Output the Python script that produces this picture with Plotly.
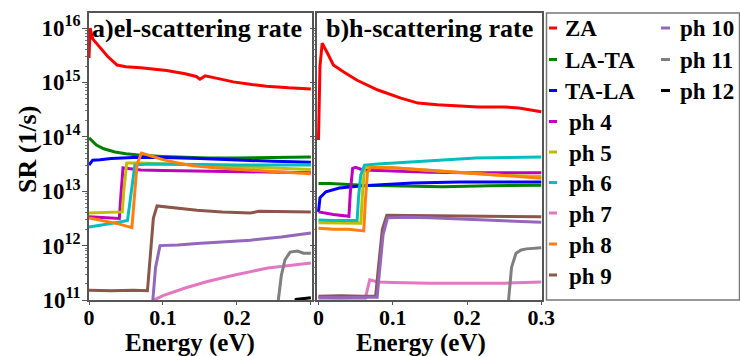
import plotly.graph_objects as go

# ---------------- data (energy in eV, log10 of scattering rate in 1/s) ----------------
names = ["ZA", "LA-TA", "TA-LA", "ph 4", "ph 5", "ph 6", "ph 7", "ph 8", "ph 9", "ph 10", "ph 11", "ph 12"]
colors = ["#ff0000", "#008000", "#0000ff", "#bf00bf", "#bfbf00", "#00bfbf",
          "#e377c2", "#ff7f0e", "#8c564b", "#9467bd", "#7f7f7f", "#000000"]

# panel a) electron scattering rate
za_a_E = [0, 0.0015, 0.005, 0.015, 0.025, 0.038, 0.05, 0.07, 0.105, 0.13, 0.145, 0.150, 0.153, 0.157, 0.175, 0.195, 0.22, 0.24, 0.27, 0.3]
za_a_L = [15.45, 16.0, 15.8, 15.65, 15.48, 15.32, 15.29, 15.27, 15.22, 15.16, 15.11, 15.06, 15.08, 15.12, 15.07, 15.01, 14.96, 14.93, 14.90, 14.88]
lata_a_E = [0, 0.003, 0.01, 0.02, 0.035, 0.05, 0.07, 0.1, 0.13, 0.16, 0.2, 0.25, 0.3]
lata_a_L = [13.98, 13.94, 13.85, 13.78, 13.72, 13.69, 13.66, 13.64, 13.62, 13.61, 13.61, 13.62, 13.63]
tala_a_E = [0, 0.002, 0.005, 0.015, 0.03, 0.06, 0.1, 0.15, 0.2, 0.25, 0.3]
tala_a_L = [13.48, 13.52, 13.57, 13.58, 13.60, 13.62, 13.62, 13.60, 13.57, 13.55, 13.53]
ph4_a_E = [0, 0.02, 0.041, 0.043, 0.046, 0.05, 0.07, 0.1, 0.15, 0.2, 0.25, 0.3]
ph4_a_L = [12.53, 12.52, 12.50, 12.9, 13.43, 13.42, 13.39, 13.38, 13.37, 13.36, 13.35, 13.34]
ph5_a_E = [0, 0.02, 0.045, 0.047, 0.051, 0.07, 0.1, 0.15, 0.2, 0.25, 0.3]
ph5_a_L = [12.60, 12.61, 12.62, 13.0, 13.52, 13.52, 13.50, 13.48, 13.45, 13.42, 13.40]
ph6_a_E = [0, 0.02, 0.04, 0.052, 0.056, 0.062, 0.08, 0.1, 0.15, 0.2, 0.25, 0.3]
ph6_a_L = [12.34, 12.38, 12.43, 12.46, 12.9, 13.48, 13.50, 13.50, 13.49, 13.48, 13.48, 13.48]
ph7_a_E = [0, 0.084, 0.088, 0.1, 0.13, 0.16, 0.197, 0.242, 0.3]
ph7_a_L = [10.5, 10.5, 11.0, 11.08, 11.22, 11.34, 11.46, 11.59, 11.68]
ph8_a_E = [0, 0.02, 0.04, 0.058, 0.061, 0.065, 0.071, 0.08, 0.1, 0.12, 0.14, 0.17, 0.2, 0.25, 0.3]
ph8_a_L = [12.51, 12.46, 12.40, 12.33, 12.9, 13.5, 13.70, 13.66, 13.58, 13.52, 13.47, 13.43, 13.40, 13.36, 13.32]
ph9_a_E = [0, 0.03, 0.06, 0.079, 0.081, 0.087, 0.092, 0.11, 0.146, 0.18, 0.218, 0.23, 0.26, 0.3]
ph9_a_L = [11.18, 11.17, 11.18, 11.17, 11.5, 12.5, 12.73, 12.70, 12.65, 12.62, 12.60, 12.63, 12.62, 12.62]
ph10_a_E = [0, 0.084, 0.086, 0.09, 0.096, 0.12, 0.146, 0.18, 0.218, 0.26, 0.3]
ph10_a_L = [10.6, 10.6, 10.95, 11.6, 12.0, 12.01, 12.04, 12.07, 12.10, 12.16, 12.23]
ph11_a_E = [0, 0.252, 0.256, 0.26, 0.265, 0.272, 0.282, 0.29, 0.3]
ph11_a_L = [10.5, 10.5, 11.0, 11.45, 11.74, 11.88, 11.90, 11.86, 11.86]
ph12_a_E = [0, 0.27, 0.28, 0.3]
ph12_a_L = [10.5, 10.5, 11.01, 11.04]

# panel b) hole scattering rate
za_b_E = [0, 0.002, 0.005, 0.008, 0.012, 0.02, 0.034, 0.052, 0.08, 0.111, 0.134, 0.16, 0.178, 0.215, 0.25, 0.27, 0.3]
za_b_L = [13.94, 15.3, 15.72, 15.65, 15.54, 15.32, 15.19, 15.04, 14.86, 14.71, 14.62, 14.59, 14.58, 14.55, 14.55, 14.53, 14.46]
lata_b_E = [0, 0.015, 0.06, 0.104, 0.167, 0.23, 0.3]
lata_b_L = [13.14, 13.14, 13.11, 13.10, 13.08, 13.10, 13.11]
tala_b_E = [0, 0.002, 0.01, 0.028, 0.06, 0.127, 0.19, 0.3]
tala_b_L = [12.62, 12.88, 12.99, 13.06, 13.10, 13.15, 13.17, 13.17]
ph4_b_E = [0, 0.02, 0.041, 0.043, 0.046, 0.05, 0.06, 0.1, 0.15, 0.2, 0.3]
ph4_b_L = [12.62, 12.57, 12.54, 13.0, 13.42, 13.44, 13.39, 13.37, 13.35, 13.34, 13.34]
ph5_b_E = [0, 0.03, 0.057, 0.059, 0.062, 0.07, 0.1, 0.15, 0.2, 0.25, 0.3]
ph5_b_L = [12.42, 12.42, 12.41, 12.9, 13.43, 13.44, 13.43, 13.38, 13.33, 13.29, 13.27]
ph6_b_E = [0, 0.02, 0.052, 0.054, 0.057, 0.062, 0.08, 0.104, 0.145, 0.212, 0.3]
ph6_b_L = [12.47, 12.46, 12.46, 12.9, 13.3, 13.48, 13.50, 13.52, 13.55, 13.61, 13.63]
ph7_b_E = [0, 0.03, 0.063, 0.066, 0.069, 0.08, 0.1, 0.15, 0.2, 0.25, 0.3]
ph7_b_L = [11.03, 11.03, 11.03, 11.2, 11.37, 11.33, 11.32, 11.31, 11.31, 11.31, 11.33]
ph8_b_E = [0, 0.02, 0.04, 0.061, 0.063, 0.066, 0.07, 0.1, 0.145, 0.212, 0.3]
ph8_b_L = [12.32, 12.30, 12.30, 12.27, 12.8, 13.35, 13.43, 13.43, 13.39, 13.32, 13.24]
ph9_b_E = [0, 0.03, 0.06, 0.077, 0.08, 0.086, 0.092, 0.15, 0.2, 0.3]
ph9_b_L = [11.07, 11.08, 11.07, 11.07, 11.5, 12.3, 12.56, 12.55, 12.54, 12.53]
ph10_b_E = [0, 0.03, 0.06, 0.079, 0.082, 0.087, 0.093, 0.12, 0.15, 0.2, 0.25, 0.3]
ph10_b_L = [11.05, 11.04, 11.05, 11.05, 11.5, 12.2, 12.51, 12.52, 12.51, 12.48, 12.46, 12.43]
ph11_b_E = [0, 0.253, 0.256, 0.26, 0.266, 0.273, 0.28, 0.3]
ph11_b_L = [10.5, 10.5, 11.0, 11.6, 11.86, 11.92, 11.94, 11.96]
ph12_b_E = [0, 0.3]
ph12_b_L = [10.5, 10.5]

panel_a = [(za_a_E, za_a_L), (lata_a_E, lata_a_L), (tala_a_E, tala_a_L), (ph4_a_E, ph4_a_L),
           (ph5_a_E, ph5_a_L), (ph6_a_E, ph6_a_L), (ph7_a_E, ph7_a_L), (ph8_a_E, ph8_a_L),
           (ph9_a_E, ph9_a_L), (ph10_a_E, ph10_a_L), (ph11_a_E, ph11_a_L), (ph12_a_E, ph12_a_L)]
panel_b = [(za_b_E, za_b_L), (lata_b_E, lata_b_L), (tala_b_E, tala_b_L), (ph4_b_E, ph4_b_L),
           (ph5_b_E, ph5_b_L), (ph6_b_E, ph6_b_L), (ph7_b_E, ph7_b_L), (ph8_b_E, ph8_b_L),
           (ph9_b_E, ph9_b_L), (ph10_b_E, ph10_b_L), (ph11_b_E, ph11_b_L), (ph12_b_E, ph12_b_L)]

x_tickvals = [0, 0.1, 0.2, 0.3]
x_ticktext_a = ["0", "0.1", "0.2", ""]
x_ticktext_b = ["0", "0.1", "0.2", "0.3"]
y_exponents = [11, 12, 13, 14, 15, 16]

# ---------------- figure ----------------
W, H = 740, 356
ML, MR, MT, MB = 89, 198, 13, 56
PW, PH = W - ML - MR, H - MT - MB
FONT = "Liberation Serif, Times New Roman, Times, serif"


def px_x(p):
    return (p - ML) / PW


def px_y(p):
    return (H - MB - p) / PH


def bold(t):
    return "<b>" + t + "</b>"


fig = go.Figure()
for i in range(len(names)):
    for (E, L), ax in ((panel_a[i], "x"), (panel_b[i], "x2")):
        fig.add_trace(go.Scatter(
            x=E, y=[10 ** v for v in L], mode="lines", name=names[i],
            line=dict(color=colors[i], width=3), xaxis=ax, yaxis="y" if ax == "x" else "y2",
            showlegend=False, hoverinfo="skip"))

frame = dict(showline=True, linecolor="#555555", linewidth=1.5, mirror=True,
             showgrid=False, zeroline=False)
tfont = dict(size=23, color="black", family=FONT)
xfont = dict(size=22, color="black", family=FONT)
yticks = dict(type="log", range=[11, 16.276], tickmode="array",
              tickvals=[10 ** e for e in y_exponents],
              ticktext=[bold("10<sup>%d</sup>" % e) for e in y_exponents],
              ticks="outside", ticklen=5, tickcolor="#555555",
              minor=dict(ticks="outside", ticklen=2.5, tickcolor="#777777", dtick="D1", showgrid=False))
xcommon = dict(tickmode="array", tickvals=x_tickvals, ticks="outside", ticklen=3,
               tickcolor="#555555", tickfont=xfont, ticklabelstandoff=-6)

fig.update_layout(
    width=W, height=H, margin=dict(l=ML, r=MR, t=MT, b=MB),
    paper_bgcolor="white", plot_bgcolor="white",
    font=dict(family=FONT, color="black"),
    showlegend=False,
    xaxis=dict(domain=[0, px_x(312)], range=[0, 0.3015],
               ticktext=[bold(t) for t in x_ticktext_a], anchor="y", **xcommon, **frame),
    xaxis2=dict(domain=[px_x(317), 1], range=[-0.002, 0.301],
                ticktext=[bold(t) for t in x_ticktext_b], anchor="y2", **xcommon, **frame),
    yaxis=dict(anchor="x", tickfont=tfont, ticklabelstandoff=-3, **yticks, **frame),
    yaxis2=dict(anchor="x2", matches="y", showticklabels=False, **yticks, **frame),
)


def txt(x, y, s, size, **kw):
    d = dict(x=px_x(x), y=px_y(y), text=bold(s), xref="paper", yref="paper", showarrow=False,
             xanchor="left", yanchor="middle", font=dict(size=size, family=FONT, color="black"))
    d.update(kw)
    return d


ann = [
    txt(90, 29, "a)el-scattering rate", 26),
    txt(324, 29, "b)h-scattering rate", 26),
    txt(190, 343, "Energy (eV)", 25, xanchor="center"),
    txt(421, 343, "Energy (eV)", 25, xanchor="center"),
    txt(27, 150, "SR (1/s)", 26, xanchor="center", textangle=-90),
]

# legend (two columns drawn in paper coordinates)
shapes = [dict(type="rect", xref="paper", yref="paper", x0=px_x(546.5), x1=px_x(739.5),
               y0=px_y(300), y1=px_y(13), line=dict(color="#777777", width=1.5))]
row_y = [28, 59.5, 90.5, 121.5, 152, 182.5, 213, 244, 275]
for i, nm in enumerate(names):
    if i < 9:
        ly, lx0, lx1 = row_y[i], 549, 557
        tx = 563 if i < 3 else 567
    else:
        ly, lx0, lx1 = row_y[i - 9], 661, 670
        tx = 678
    shapes.append(dict(type="line", xref="paper", yref="paper", x0=px_x(lx0), x1=px_x(lx1),
                       y0=px_y(ly), y1=px_y(ly), line=dict(color=colors[i], width=3)))
    ann.append(txt(tx, ly + 1, nm, 23))

fig.update_layout(annotations=ann, shapes=shapes)
fig.write_html("out.html")
